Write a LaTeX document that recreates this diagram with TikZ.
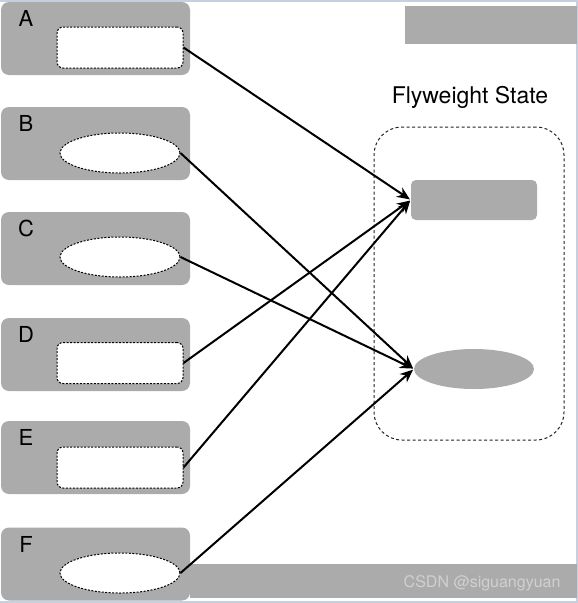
\documentclass[tikz,border=0pt]{standalone}
\usepackage{fontspec}
\setmainfont{TeX Gyre Heros}
\usetikzlibrary{shapes.geometric,arrows.meta,positioning}
\definecolor{panel}{HTML}{ABABAB}
\definecolor{frameline}{HTML}{C8D0E0}
\definecolor{wmark}{HTML}{D0D0D0}
\definecolor{poolline}{HTML}{222222}

\begin{document}
\begin{tikzpicture}[
  x=1pt, y=-1pt,
  client/.style={rectangle, rounded corners=8pt, fill=panel, inner sep=0pt,
    minimum width=189pt, minimum height=73pt},
  slotbox/.style={rectangle, rounded corners=6pt, draw, fill=white, line width=1pt,
    dash pattern=on 2pt off 1.5pt, inner sep=0pt, minimum width=126pt, minimum height=41pt},
  slotoval/.style={ellipse, draw, fill=white, line width=1pt,
    dash pattern=on 2pt off 1.5pt, inner sep=0pt, minimum width=120pt, minimum height=40pt},
  tag/.style={font=\fontsize{22}{26}\selectfont, inner sep=0pt},
  arr/.style={-{Stealth[length=13pt,width=11pt]}, line width=2pt, shorten >=1pt}
]
\useasboundingbox (0,0) rectangle (578,603);

% screenshot frame and filler bars
\draw[frameline, line width=2pt] (0,1) -- (578,1);
\draw[frameline, line width=2pt] (0,602) -- (578,602);
\draw[frameline, line width=1.5pt] (577.2,0) -- (577.2,603);
\fill[panel] (405,6) rectangle (576.5,44);
\fill[panel] (190,564) rectangle (576.5,598);
\node[font=\fontsize{16}{18}\selectfont, text=wmark, anchor=east] (mark) at (564,583) {CSDN @siguangyuan};

% clients
\node[client] (clientA) at (95.5,38.5) {};
\node[client] (clientB) at (95.5,143.5) {};
\node[client] (clientC) at (95.5,248.5) {};
\node[client] (clientD) at (95.5,354.5) {};
\node[client] (clientE) at (95.5,457.5) {};
\node[client] (clientF) at (95.5,564) {};

\node[tag] (tagA) at (26,18) {A};
\node[tag] (tagB) at (26,123) {B};
\node[tag] (tagC) at (26,228) {C};
\node[tag] (tagD) at (26,334) {D};
\node[tag] (tagE) at (26,437) {E};
\node[tag] (tagF) at (26,544) {F};

\node[slotbox]  (slotA) at (120,47.5) {};
\node[slotoval] (slotB) at (120,153) {};
\node[slotoval] (slotC) at (120,257) {};
\node[slotbox]  (slotD) at (120,363) {};
\node[slotbox]  (slotE) at (120,467.5) {};
\node[slotoval] (slotF) at (120,573) {};

% shared flyweights
\node[font=\fontsize{23}{27}\selectfont, anchor=base] (title) at (470,103) {Flyweight State};
\node[rectangle, rounded corners=28pt, draw=poolline, line width=1pt,
  dash pattern=on 3pt off 2.5pt, inner sep=0pt,
  minimum width=190pt, minimum height=313pt] (pool) at (469,283.5) {};
\node[rectangle, rounded corners=5pt, fill=panel, inner sep=0pt,
  minimum width=126pt, minimum height=40pt] (sharedbox) at (474,200) {};
\node[ellipse, fill=panel, inner sep=0pt,
  minimum width=120pt, minimum height=40pt] (sharedoval) at (474,369) {};

\draw[arr] (slotA.east) -- (sharedbox.west);
\draw[arr] (slotB.east) -- (sharedoval.west);
\draw[arr] (slotC.east) -- (sharedoval.west);
\draw[arr] (slotD.east) -- (sharedbox.west);
\draw[arr] (slotE.east) -- (sharedbox.west);
\draw[arr] (slotF.east) -- (sharedoval.west);
\end{tikzpicture}
\end{document}
